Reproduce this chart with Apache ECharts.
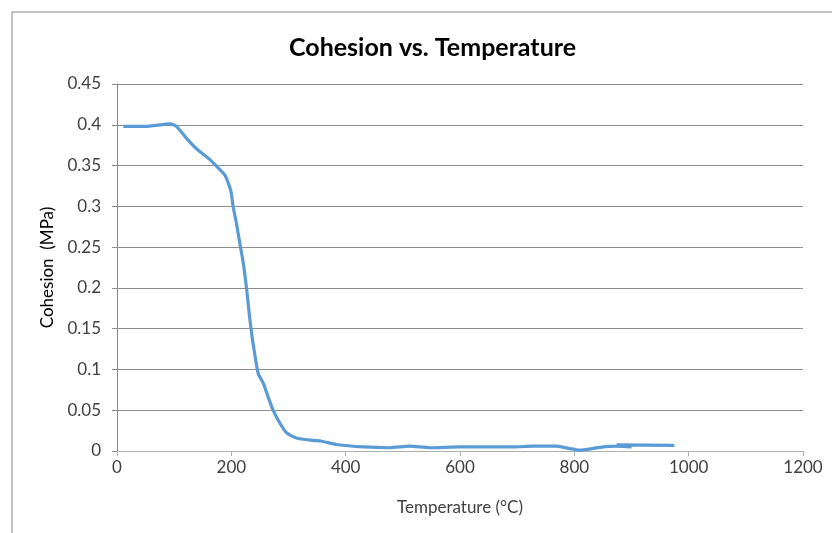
<!DOCTYPE html>
<html>
<head>
<meta charset="utf-8">
<script src="https://cdn.jsdelivr.net/npm/echarts@6/dist/echarts.min.js"></script>
<style>
  html, body { margin: 0; padding: 0; background: #fff; }
  #chart { width: 832px; height: 533px; }
</style>
</head>
<body>
<div id="chart"></div>
<script>
// Measured cohesion (MPa) against temperature (°C)
const temperature = [11, 50, 93, 104, 122, 140, 163, 180, 189, 196, 200, 203, 209, 215, 221, 227, 232, 238, 247, 256, 264, 273, 285, 297, 314, 343, 358, 384, 431, 477, 512, 547, 600, 635, 693, 728, 769, 792, 809, 850, 874, 900, 874, 975];
const cohesion    = [0.398, 0.398, 0.401, 0.398, 0.383, 0.370, 0.357, 0.345, 0.338, 0.326, 0.316, 0.300, 0.279, 0.254, 0.230, 0.197, 0.164, 0.132, 0.095, 0.083, 0.067, 0.050, 0.034, 0.022, 0.016, 0.013, 0.012, 0.008, 0.005, 0.004, 0.006, 0.004, 0.005, 0.005, 0.005, 0.006, 0.006, 0.003, 0.001, 0.005, 0.006, 0.005, 0.0075, 0.0068];

const titleText = 'Cohesion vs. Temperature';
const xName = 'Temperature (°C)';
const yName = 'Cohesion  (MPa)';

const points = temperature.map((t, i) => [t, cohesion[i]]);
const font = 'Lato, "Liberation Sans", sans-serif';
const gridColor = '#8c8c8c';

const chart = echarts.init(document.getElementById('chart'), null, { renderer: 'canvas' });
chart.setOption({
  backgroundColor: '#fff',
  animation: false,
  graphic: [{
    type: 'rect',
    shape: { x: 12, y: 12, width: 900, height: 600 },
    style: { fill: 'none', stroke: '#898989', lineWidth: 1 },
    silent: true
  }],
  title: {
    text: titleText,
    left: 284,
    top: 30,
    textStyle: { fontFamily: font, fontSize: 25, fontWeight: 'bold', color: '#000' }
  },
  grid: { left: 117, right: 29, top: 84, bottom: 82 },
  xAxis: {
    type: 'value',
    min: 0, max: 1200, interval: 200,
    name: xName,
    nameLocation: 'middle',
    nameGap: 48,
    nameTextStyle: { fontFamily: font, fontSize: 17, color: '#404040' },
    axisLine: { show: true, lineStyle: { color: '#b0b0b0' } },
    axisTick: { show: true, length: 5, lineStyle: { color: '#b0b0b0' } },
    axisLabel: { fontFamily: font, fontSize: 17, color: '#404040', margin: 8, formatter: v => String(v) },
    splitLine: { show: false }
  },
  yAxis: {
    type: 'value',
    min: 0, max: 0.45, interval: 0.05,
    name: yName,
    nameLocation: 'middle',
    nameGap: 61,
    nameTextStyle: { fontFamily: font, fontSize: 17, color: '#000' },
    axisLine: { show: true, lineStyle: { color: gridColor } },
    axisTick: { show: true, length: 5, lineStyle: { color: gridColor } },
    axisLabel: { fontFamily: font, fontSize: 17, color: '#404040', margin: 16 },
    splitLine: { show: true, lineStyle: { color: gridColor, width: 1 } }
  },
  series: [{
    type: 'line',
    data: points,
    smooth: 0.2,
    showSymbol: false,
    lineStyle: { color: '#5b9bd5', width: 3.2 },
    itemStyle: { color: '#5b9bd5' }
  }]
});
</script>
</body>
</html>
